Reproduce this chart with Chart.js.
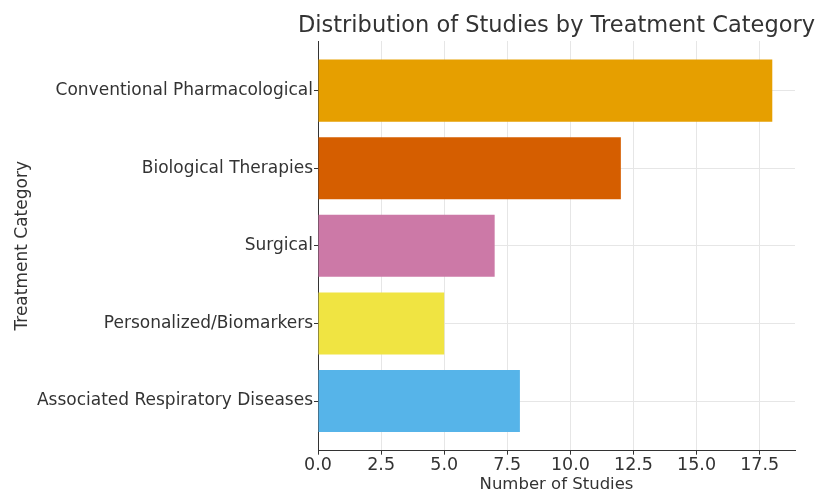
<!DOCTYPE html>
<html>
<head>
<meta charset="utf-8">
<script src="https://cdn.jsdelivr.net/npm/chart.js@4"></script>
<style>
  html, body { margin: 0; padding: 0; background: #fff; }
  canvas { display: block; }
</style>
</head>
<body>
<canvas id="studiesChart" width="816" height="493"></canvas>
<script>
const chartTitle = "Distribution of Studies by Treatment Category";
const categories = [
  "Conventional Pharmacological",
  "Biological Therapies",
  "Surgical",
  "Personalized/Biomarkers",
  "Associated Respiratory Diseases"
];
const studyCounts = [18, 12, 7, 5, 8];
const barColors = ["#E69F00", "#D55E00", "#CC79A7", "#F0E442", "#56B4E9"];
const xTickStep = 2.5;
const xMax = 18.9;

const FONT = "'DejaVu Sans', sans-serif";
const TEXT = "#333";
const GRID = "#e6e6e6";

// bars sit on a numeric index axis so the matplotlib-style margins can be kept
const points = studyCounts.map((v, i) => ({ x: v, y: i }));

// title centred over the plot area and allowed to run past the canvas edge
const centredTitle = {
  id: "centredTitle",
  afterDraw(chart) {
    const { ctx, chartArea } = chart;
    ctx.save();
    ctx.font = "22.5px " + FONT;
    ctx.fillStyle = TEXT;
    ctx.textAlign = "center";
    ctx.textBaseline = "alphabetic";
    ctx.fillText(chartTitle, (chartArea.left + chartArea.right) / 2, 32);
    ctx.restore();
  }
};

new Chart(document.getElementById("studiesChart"), {
  type: "bar",
  data: {
    datasets: [{
      label: "Number of Studies",
      data: points,
      backgroundColor: barColors,
      barPercentage: 0.8,
      categoryPercentage: 1.0
    }]
  },
  plugins: [centredTitle],
  options: {
    responsive: false,
    animation: false,
    indexAxis: "y",
    layout: { padding: { left: 6, right: 21, top: 41, bottom: 0 } },
    plugins: {
      legend: { display: false },
      tooltip: { enabled: false },
      title: { display: false }
    },
    scales: {
      x: {
        type: "linear",
        min: 0,
        max: xMax,
        ticks: {
          stepSize: xTickStep,
          includeBounds: false,
          color: TEXT,
          font: { family: FONT, size: 17.5 },
          padding: 0,
          callback: v => v.toFixed(1)
        },
        grid: { color: GRID, tickColor: TEXT, tickLength: 4 },
        border: { color: TEXT, width: 1 },
        title: {
          display: true,
          text: "Number of Studies",
          color: TEXT,
          font: { family: FONT, size: 16.5, lineHeight: 1.05 },
          padding: { top: 0, bottom: 0 }
        }
      },
      y: {
        type: "linear",
        reverse: true,
        offset: false,
        min: -0.64,
        max: categories.length - 1 + 0.64,
        grid: { offset: false, color: GRID, tickColor: TEXT, tickLength: 4 },
        border: { color: TEXT, width: 1 },
        ticks: {
          stepSize: 1,
          includeBounds: false,
          color: TEXT,
          font: { family: FONT, size: 17 },
          padding: 1,
          callback: v => categories[v] || ""
        },
        title: {
          display: true,
          text: "Treatment Category",
          color: TEXT,
          font: { family: FONT, size: 17 },
          padding: { top: 6, bottom: 0 }
        },
        afterFit: scale => { scale.width = 312; }
      }
    }
  }
});
</script>
</body>
</html>
